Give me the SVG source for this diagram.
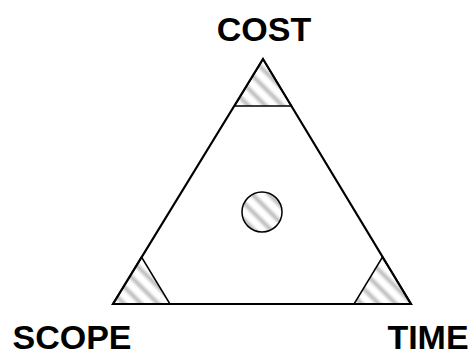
<svg xmlns="http://www.w3.org/2000/svg" width="476" height="356" viewBox="0 0 476 356">
<defs>
<linearGradient id="sg" x1="0" y1="0" x2="1" y2="0">
<stop offset="0" stop-color="#ffffff"/>
<stop offset="0.5" stop-color="#bcbcbc"/>
<stop offset="1" stop-color="#ffffff"/>
</linearGradient>
<pattern id="hatch" patternUnits="userSpaceOnUse" width="12" height="12" patternTransform="rotate(-45)">
<rect x="0" y="0" width="12" height="12" fill="#ffffff"/>
<rect x="1" y="0" width="8" height="12" fill="url(#sg)"/>
</pattern>
<style>
.lbl{font-family:"Liberation Sans",Arial,sans-serif;font-weight:bold;font-size:34px;fill:#000;text-anchor:middle}
.h{fill:url(#hatch);stroke:#000;stroke-width:1.5;stroke-linejoin:miter}
.main{fill:none;stroke:#000;stroke-width:2.2;stroke-linejoin:miter}
</style>
</defs>
<rect width="476" height="356" fill="#fff"/>
<g id="cost-corner"><polygon class="h" points="263,59 234.5,106 291.5,106"/></g>
<g id="scope-corner"><polygon class="h" points="113,304 141.5,257 170,304"/></g>
<g id="time-corner"><polygon class="h" points="411,304 382.5,257 354,304"/></g>
<g id="center"><circle class="h" cx="262" cy="212" r="20"/></g>
<g id="connectors"><polygon class="main" points="263,59 113,304 411,304"/></g>
<g id="cost"><text class="lbl" x="264" y="41">COST</text></g>
<g id="scope"><text class="lbl" x="72" y="349">SCOPE</text></g>
<g id="time"><text class="lbl" x="428" y="349">TIME</text></g>
</svg>
